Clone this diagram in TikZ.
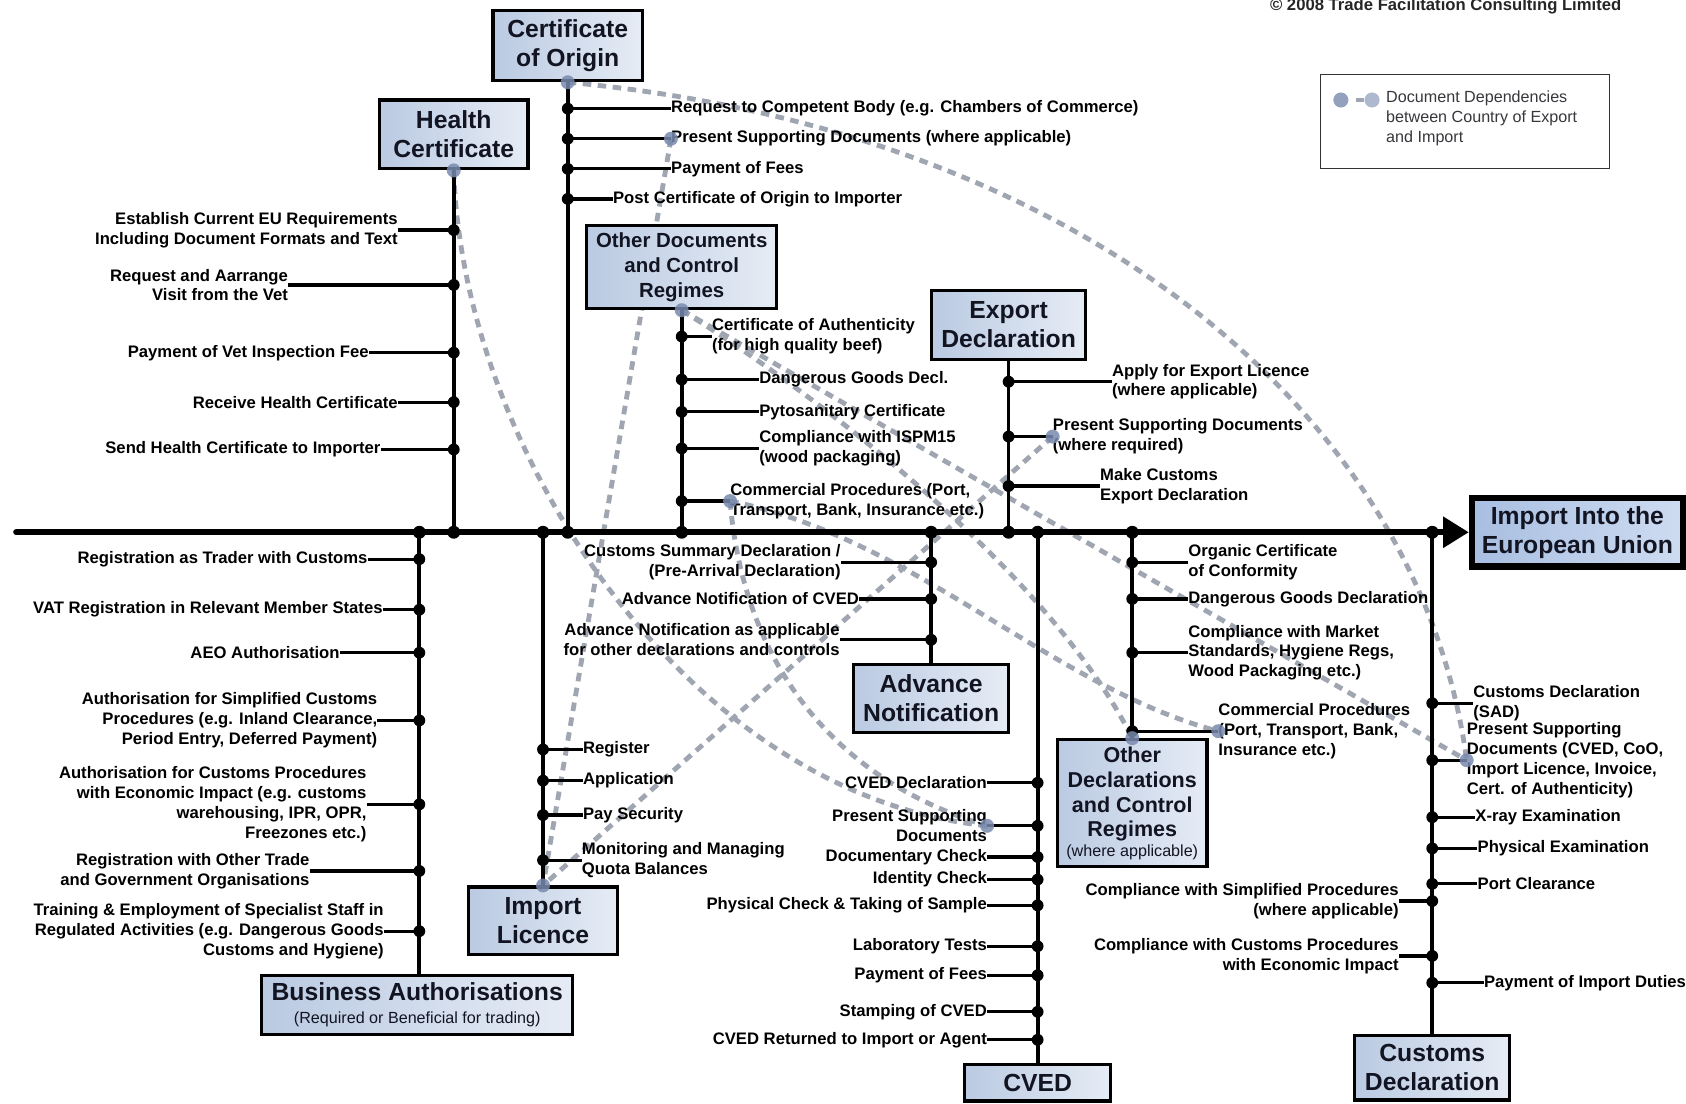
\documentclass[tikz,border=0pt]{standalone}
\usepackage{fontspec}
\setmainfont{Liberation Sans}
\usetikzlibrary{arrows.meta}
\pgfdeclarelayer{bg}
\pgfdeclarelayer{deps}
\pgfsetlayers{bg,deps,main}
\definecolor{boxA}{RGB}{186,202,226}
\definecolor{boxB}{RGB}{230,236,245}
\definecolor{euA}{RGB}{168,190,225}
\definecolor{euB}{RGB}{206,220,241}
\definecolor{depgrey}{RGB}{160,166,177}
\definecolor{depdot}{RGB}{120,138,174}
\definecolor{ttltxt}{RGB}{18,20,34}
\definecolor{legtxt}{RGB}{55,55,60}
\newcommand{\LeftTick}[5]{%
  \node[lbl, anchor=east, align=right] (#1) at (#4,#3) {#5};
  \coordinate (#1j) at (#2,#3);
  \draw[tck] (#1.east) -- (#1j);
  \fill (#1j) circle (5.5pt);
}
\newcommand{\RightTick}[5]{%
  \node[lbl, anchor=west, align=left] (#1) at (#4,#3) {#5};
  \coordinate (#1j) at (#2,#3);
  \draw[tck] (#1j) -- (#1.west);
  \fill (#1j) circle (5.5pt);
}
\begin{document}
\begin{tikzpicture}[x=1pt,y=-1pt,
  lbl/.style={font=\fontsize{15.5}{18.4}\selectfont\bfseries, inner sep=0pt, text=black},
  ttl/.style={draw=black, line width=3pt, left color=boxA, right color=boxB, text=ttltxt,
    font=\fontsize{23}{27}\selectfont\bfseries, align=center, inner sep=0pt},
  bone/.style={line width=3.5pt},
  tck/.style={line width=3pt},
  dep/.style={draw=depgrey, line width=4.5pt, dash pattern=on 8pt off 6pt},
  ddot/.style={fill=depdot, opacity=0.85},
  spine/.style={line width=5.5pt, line cap=round, -{Triangle[length=24pt,width=28pt]}},
  jdot/.style={fill=black},
]
\begin{pgfonlayer}{bg}
\fill[white] (0,0) rectangle (1568,1026);
\end{pgfonlayer}
\useasboundingbox (0,0) rectangle (1568,1026);

% ---------- boxes ----------
\node[ttl, minimum width=138pt, minimum height=64pt] (hc) at (422,125) {Health\\Certificate};
\node[ttl, minimum width=139pt, minimum height=65pt] (co) at (528,42.5) {Certificate\\of Origin};
\node[ttl, minimum width=177pt, minimum height=77pt, font=\fontsize{19}{23}\selectfont\bfseries] (od) at (634,248.5) {Other Documents\\and Control\\Regimes};
\node[ttl, minimum width=143pt, minimum height=64pt] (ed) at (938,302) {Export\\Declaration};
\node[ttl, line width=6pt, left color=euA, right color=euB, minimum width=196pt, minimum height=64pt] (eu) at (1467,495) {Import Into the\\European Union};
\node[ttl, minimum width=289pt, minimum height=55pt] (ba) at (388,934.5) {Business Authorisations\\[-6pt]{\fontsize{15}{17}\selectfont\mdseries (Required or Beneficial for trading)}};
\node[ttl, minimum width=138pt, minimum height=63pt] (il) at (505,856.5) {Import\\Licence};
\node[ttl, minimum width=144pt, minimum height=63pt] (an) at (866,649.5) {Advance\\Notification};
\node[ttl, minimum width=136pt, minimum height=34pt] (cv) at (965,1007) {CVED};
\node[ttl, minimum width=139pt, minimum height=118pt, font=\fontsize{20}{23}\selectfont\bfseries] (od2) at (1053,747) {Other\\Declarations\\and Control\\Regimes\\[-5pt]{\fontsize{15}{17}\selectfont\mdseries (where applicable)}};
\node[ttl, minimum width=144pt, minimum height=60pt] (cd) at (1332,993) {Customs\\Declaration};

% ---------- spine ----------
\coordinate (spS) at (15,495);
\draw[spine] (spS) -- (eu.west);
\coordinate (jBA) at (390,495);
\coordinate (jHC) at (422,495);
\coordinate (jIL) at (505,495);
\coordinate (jCO) at (528,495);
\coordinate (jOD) at (634,495);
\coordinate (jAN) at (866,495);
\coordinate (jED) at (938,495);
\coordinate (jCV) at (965,495);
\coordinate (jOD2) at (1053,495);
\coordinate (jCD) at (1332,495);

% ---------- bones ----------
\draw[bone] (hc.south) -- (jHC);
\draw[bone] (co.south) -- (jCO);
\draw[bone] (od.south) -- (jOD);
\draw[bone] (ed.south) -- (jED);
\draw[bone] (jBA) -- (jBA |- ba.north);
\draw[bone] (jIL) -- (il.north);
\draw[bone] (jAN) -- (an.north);
\draw[bone] (jCV) -- (cv.north);
\draw[bone] (jOD2) -- (od2.north);
\draw[bone] (jCD) -- (cd.north);
\foreach \j in {jBA,jHC,jIL,jCO,jOD,jAN,jED,jCV,jOD2,jCD} \fill[jdot] (\j) circle (6pt);

% ---------- Health Certificate ----------
\LeftTick{h1}{422}{214}{370}{Establish Current EU Requirements\\Including Document Formats and Text}
\LeftTick{h2}{422}{265}{268}{Request and Aarrange\\Visit from the Vet}
\LeftTick{h3}{422}{328}{343}{Payment of Vet Inspection Fee}
\LeftTick{h4}{422}{374}{370}{Receive Health Certificate}
\LeftTick{h5}{422}{418}{354}{Send Health Certificate to Importer}

% ---------- Certificate of Origin ----------
\RightTick{c1}{528}{101}{624}{Request to Competent Body (e.g. Chambers of Commerce)}
\RightTick{c2}{528}{129}{624}{Present Supporting Documents (where applicable)}
\RightTick{c3}{528}{157}{624}{Payment of Fees}
\RightTick{c4}{528}{185}{570}{Post Certificate of Origin to Importer}

% ---------- Other Documents ----------
\RightTick{o1}{634}{313}{662}{Certificate of Authenticity\\(for high quality beef)}
\RightTick{o2}{634}{353}{706}{Dangerous Goods Decl.}
\RightTick{o3}{634}{383}{706}{Pytosanitary Certificate}
\RightTick{o4}{634}{417}{706}{Compliance with ISPM15\\(wood packaging)}
\RightTick{o5}{634}{466}{679}{Commercial Procedures (Port,\\Transport, Bank, Insurance etc.)}

% ---------- Export Declaration ----------
\RightTick{e1}{938}{355}{1034}{Apply for Export Licence\\(where applicable)}
\RightTick{e2}{938}{406}{979}{Present Supporting Documents\\(where required)}
\RightTick{e3}{938}{452}{1023}{Make Customs\\Export Declaration}

% ---------- Business Authorisations ----------
\LeftTick{b1}{390}{520}{342}{Registration as Trader with Customs}
\LeftTick{b2}{390}{567}{356}{VAT Registration in Relevant Member States}
\LeftTick{b3}{390}{607}{316}{AEO Authorisation}
\LeftTick{b4}{390}{670}{351}{Authorisation for Simplified Customs\\Procedures (e.g. Inland Clearance,\\Period Entry, Deferred Payment)}
\LeftTick{b5}{390}{748}{341}{Authorisation for Customs Procedures\\with Economic Impact (e.g. customs\\warehousing, IPR, OPR,\\Freezones etc.)}
\LeftTick{b6}{390}{810}{288}{Registration with Other Trade\\and Government Organisations}
\LeftTick{b7}{390}{866}{357}{Training \& Employment of Specialist Staff in\\Regulated Activities (e.g. Dangerous Goods\\Customs and Hygiene)}

% ---------- Import Licence ----------
\RightTick{i1}{505}{697}{542}{Register}
\RightTick{i2}{505}{726}{542}{Application}
\RightTick{i3}{505}{758}{542}{Pay Security}
\RightTick{i4}{505}{800}{541}{Monitoring and Managing\\Quota Balances}

% ---------- Advance Notification ----------
\LeftTick{a1}{866}{523}{782}{Customs Summary Declaration /\\(Pre-Arrival Declaration)}
\LeftTick{a2}{866}{557}{799}{Advance Notification of CVED}
\LeftTick{a3}{866}{595}{781}{Advance Notification as applicable\\for other declarations and controls}

% ---------- CVED ----------
\LeftTick{v1}{965}{728}{918}{CVED Declaration}
\LeftTick{v2}{965}{768}{918}{Present Supporting\\Documents}
\LeftTick{v3}{965}{797}{918}{Documentary Check}
\LeftTick{v4}{965}{818}{918}{Identity Check}
\LeftTick{v5}{965}{842}{918}{Physical Check \& Taking of Sample}
\LeftTick{v6}{965}{880}{918}{Laboratory Tests}
\LeftTick{v7}{965}{907}{918}{Payment of Fees}
\LeftTick{v8}{965}{941}{918}{Stamping of CVED}
\LeftTick{v9}{965}{967}{918}{CVED Returned to Import or Agent}

% ---------- Other Declarations ----------
\RightTick{d1}{1053}{523}{1105}{Organic Certificate\\of Conformity}
\RightTick{d2}{1053}{557}{1105}{Dangerous Goods Declaration}
\RightTick{d3}{1053}{607}{1105}{Compliance with Market\\Standards, Hygiene Regs,\\Wood Packaging etc.)}
\RightTick{d4}{1053}{680}{1133}{Commercial Procedures\\(Port, Transport, Bank,\\Insurance etc.)}

% ---------- Customs Declaration ----------
\RightTick{s1}{1332}{654}{1370}{Customs Declaration\\(SAD)}
\RightTick{s2}{1332}{707}{1364}{Present Supporting\\Documents (CVED, CoO,\\Import Licence, Invoice,\\Cert. of Authenticity)}
\RightTick{s3}{1332}{760}{1372}{X-ray Examination}
\RightTick{s4}{1332}{789}{1374}{Physical Examination}
\RightTick{s5}{1332}{822}{1374}{Port Clearance}
\RightTick{s6}{1332}{914}{1380}{Payment of Import Duties}
\LeftTick{s7}{1332}{838}{1301}{Compliance with Simplified Procedures\\(where applicable)}
\LeftTick{s8}{1332}{889}{1301}{Compliance with Customs Procedures\\with Economic Impact}

% ---------- dependencies ----------
\begin{pgfonlayer}{deps}
\draw[dep] (co.south) .. controls (1000,120) and (1320,380) .. (s2.west);
\draw[dep] (hc.south) .. controls (430,420) and (640,740) .. (v2.east);
\draw[dep] (c2.west) -- (il.north);
\draw[dep] (e2.west) -- (il.north);
\draw[dep] (od.south) .. controls (780,380) and (980,540) .. (od2.north);
\draw[dep] (od.south) -- (s2.west);
\draw[dep] (o5.west) .. controls (850,500) and (980,640) .. (d4.west);
\draw[dep] (o5.west) .. controls (690,600) and (760,720) .. (v2.east);
\end{pgfonlayer}
\foreach \p in {co.south,hc.south,c2.west,od.south,o5.west,e2.west,il.north,v2.east,od2.north,d4.west,s2.west}
  \fill[ddot] (\p) circle (6.5pt);

% ---------- legend ----------
\node[draw=black!80, line width=1.2pt, minimum width=269pt, minimum height=88pt, inner sep=0pt] (leg) at (1362.5,113) {};
\node[circle, fill=depdot, opacity=0.8, minimum size=14pt, inner sep=0pt] (lgA) at (1247,93) {};
\node[circle, fill=depdot, opacity=0.6, minimum size=14pt, inner sep=0pt] (lgB) at (1276,93) {};
\coordinate (lgC) at (1261,93);
\draw[depgrey, line width=4pt] (lgC) -- (lgB.west);
\node[anchor=north west, align=left, font=\fontsize{15}{18.5}\selectfont, text=legtxt, inner sep=0pt] (legt) at (1289,84) {Document Dependencies\\between Country of Export\\and Import};

% ---------- copyright ----------
\node[anchor=base, font=\fontsize{15.5}{18}\selectfont\bfseries, text=black!85, inner sep=0pt] (copy) at (1344.5,10) {© 2008 Trade Facilitation Consulting Limited};
\end{tikzpicture}
\end{document}
